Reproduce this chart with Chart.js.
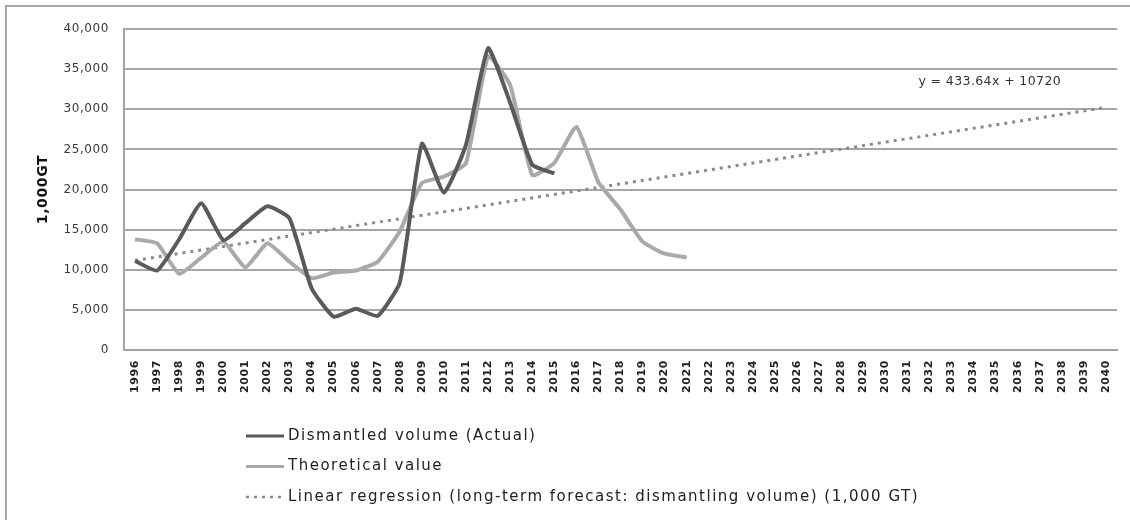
<!DOCTYPE html>
<html>
<head>
<meta charset="utf-8">
<script src="https://cdn.jsdelivr.net/npm/chart.js@4/dist/chart.umd.min.js"></script>
<style>
  html, body { margin: 0; padding: 0; background: #ffffff; }
  #wrap { position: relative; width: 1130px; height: 520px; }
  canvas { display: block; }
</style>
</head>
<body>
<div id="wrap"><canvas id="c" width="1130" height="520"></canvas></div>
<script>
// Years on the horizontal axis
const years = [];
for (let y = 1996; y <= 2040; y++) years.push(String(y));

// Dismantled volume, actual (1,000 GT), 1996-2015
const actualVolume = [11100, 9900, 13800, 18300, 13700, 15800, 17900, 16400, 7700, 4150,
                      5150, 4250, 8400, 25700, 19600, 25600, 37600, 30800, 23100, 22000];

// Theoretical value (1,000 GT), 1996-2021
const theoreticalValue = [13800, 13300, 9500, 11500, 13500, 10300, 13300, 11000, 8950, 9650,
                          9900, 11000, 14800, 20800, 21600, 23300, 36600, 33000, 21800, 23300,
                          27800, 20900, 17500, 13500, 12000, 11550];

// Long-term regression line: y = 433.64x + 10720 (x = 1 for 1996)
const trendSlope = 433.64;
const trendIntercept = 10720;

// Y-axis tick range
const yMin = 0, yMax = 40000, yStep = 5000;

const seriesNames = [
  'Dismantled volume (Actual)',
  'Theoretical value',
  'Linear regression (long-term forecast: dismantling volume) (1,000 GT)'
];

// Regression line: endpoints only, joined across the gap
const trendLine = years.map((_, i) =>
  (i === 0 || i === years.length - 1) ? trendSlope * (i + 1) + trendIntercept : null);

const FONT = '"DejaVu Sans", sans-serif';

// Frame around the chart (left and top edges visible); slight tracking for axis text
const framePlugin = {
  id: 'frame',
  beforeDraw(chart) {
    const ctx = chart.ctx;
    ctx.save();
    ctx.strokeStyle = '#a8a8a8';
    ctx.lineWidth = 2;
    ctx.strokeRect(6, 6, 1200, 600);
    ctx.restore();
    ctx.letterSpacing = '0.6px';
  }
};

// Regression equation text
const equationPlugin = {
  id: 'equation',
  afterDatasetsDraw(chart) {
    const xs = chart.scales.x, ys = chart.scales.y;
    const ctx = chart.ctx;
    const x = (xs.getPixelForValue(35) + xs.getPixelForValue(36)) / 2;
    const y = ys.getPixelForValue(33450);
    ctx.save();
    ctx.font = '12.5px ' + FONT;
    ctx.letterSpacing = '0.4px';
    ctx.fillStyle = '#333333';
    ctx.textAlign = 'left';
    ctx.textBaseline = 'middle';
    ctx.fillText('y = ' + trendSlope + 'x + ' + trendIntercept, x, y);
    ctx.restore();
  }
};

// Stacked legend under the axis
const stackedLegendPlugin = {
  id: 'stackedLegend',
  afterDraw(chart) {
    const ctx = chart.ctx;
    const x0 = 246, x1 = 284, tx = 288;
    const rowY0 = 436, rowGap = 30.5;
    ctx.save();
    chart.data.datasets.forEach((ds, i) => {
      const y = rowY0 + i * rowGap;
      ctx.beginPath();
      ctx.strokeStyle = ds.borderColor;
      ctx.lineWidth = ds.borderDash ? 2.5 : 3;
      ctx.setLineDash(ds.borderDash || []);
      ctx.moveTo(x0, y);
      ctx.lineTo(x1, y);
      ctx.stroke();
      ctx.setLineDash([]);
      ctx.font = '15px ' + FONT;
      ctx.letterSpacing = '1.5px';
      ctx.fillStyle = '#222222';
      ctx.textAlign = 'left';
      ctx.textBaseline = 'middle';
      ctx.fillText(ds.label, tx, y);
    });
    ctx.restore();
    ctx.letterSpacing = '0px';
  }
};

new Chart(document.getElementById('c'), {
  type: 'line',
  data: {
    labels: years,
    datasets: [
      {
        label: seriesNames[0],
        data: actualVolume,
        borderColor: '#5a5a5a',
        borderWidth: 4,
        pointRadius: 0,
        tension: 0.15,
        fill: false
      },
      {
        label: seriesNames[1],
        data: theoreticalValue,
        borderColor: '#a9a9a9',
        borderWidth: 4,
        pointRadius: 0,
        tension: 0.15,
        fill: false
      },
      {
        label: seriesNames[2],
        data: trendLine,
        borderColor: '#8a8a8a',
        borderWidth: 3,
        borderDash: [3, 5],
        pointRadius: 0,
        spanGaps: true,
        fill: false
      }
    ]
  },
  options: {
    responsive: false,
    animation: false,
    layout: { padding: { top: 29, right: 13, bottom: 120, left: 0 } },
    plugins: {
      legend: { display: false },
      tooltip: { enabled: false }
    },
    scales: {
      x: {
        offset: true,
        grid: { display: false, drawTicks: false },
        border: { color: '#a3a3a3', width: 2 },
        ticks: {
          autoSkip: false,
          minRotation: 90,
          maxRotation: 90,
          padding: 10,
          color: '#222222',
          font: { family: FONT, size: 11, weight: 'bold' }
        },
        afterFit(scale) { scale.height = 50; }
      },
      y: {
        min: yMin,
        max: yMax,
        grid: { color: '#a6a6a6', lineWidth: 2, drawTicks: false },
        border: { color: '#a3a3a3', width: 2 },
        ticks: {
          stepSize: yStep,
          padding: 15,
          color: '#3a3a3a',
          font: { family: FONT, size: 12 },
          callback: v => v.toLocaleString('en-US')
        },
        title: {
          display: true,
          text: '1,000GT',
          color: '#111111',
          font: { family: FONT, size: 14, weight: 'bold' },
          padding: { top: 35, bottom: 0 }
        },
        afterFit(scale) { scale.width = 124; }
      }
    }
  },
  plugins: [framePlugin, equationPlugin, stackedLegendPlugin]
});
</script>
</body>
</html>
